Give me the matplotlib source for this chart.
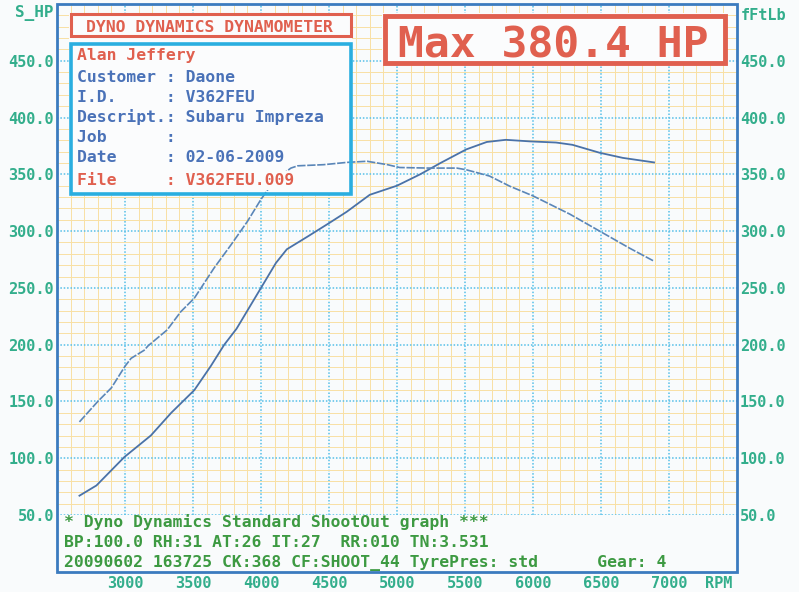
import matplotlib.pyplot as plt
from matplotlib.ticker import MultipleLocator
from matplotlib.patches import Rectangle

# power curve (S_HP)
rpm_hp = [2665, 2790, 2995, 3190, 3340, 3510, 3630, 3730, 3820, 4000, 4110, 4190,
          4340, 4500, 4630, 4800, 5000, 5170, 5320, 5510, 5660, 5800, 5980, 6170,
          6290, 6490, 6660, 6890]
hp = [67, 76, 101, 120, 140, 160, 181, 200, 214, 250, 272, 284,
      295, 307, 317, 332, 340, 350, 360, 372, 378.5, 380.4, 379, 378,
      376, 369, 364.5, 360.5]

# torque curve (fFtLb)
rpm_tq = [2665, 2800, 2900, 3000, 3045, 3140, 3170, 3310, 3410, 3510, 3655, 3780,
          3900, 4000, 4100, 4220, 4270, 4460, 4630, 4780, 4930, 5020, 5240, 5440,
          5510, 5680, 5830, 6000, 6270, 6490, 6710, 6890]
tq = [132, 150, 162, 181, 188, 195, 199, 213, 229, 241, 267.5, 288,
      308.5, 328, 345, 355.5, 357.5, 358.5, 360.5, 361.5, 358.5, 356, 355.5, 355.5,
      354, 348.5, 339.5, 331, 315, 300, 285, 273.5]

x_ticks = [3000, 3500, 4000, 4500, 5000, 5500, 6000, 6500, 7000]
y_ticks = [50, 100, 150, 200, 250, 300, 350, 400, 450]

info_rows = [
    ("Alan Jeffery", 'red'),
    ("Customer : Daone", 'blue'),
    ("I.D.     : V362FEU", 'blue'),
    ("Descript.: Subaru Impreza", 'blue'),
    ("Job      :", 'blue'),
    ("Date     : 02-06-2009", 'blue'),
    ("File     : V362FEU.009", 'red'),
]
footer_rows = [
    "* Dyno Dynamics Standard ShootOut graph ***",
    "BP:100.0 RH:31 AT:26 IT:27  RR:010 TN:3.531",
    "20090602 163725 CK:368 CF:SHOOT_44 TyrePres: std      Gear: 4",
]

W, H = 799, 592
def fx(x):
    return x / W
def fy(y):
    return 1 - y / H

RED = '#e0604f'
BLUE_TXT = '#4a72b8'
TEAL = '#33ae8c'
GREEN = '#3d9a42'
FRAME = '#3b7bbf'
CYAN = '#2aaee0'
PAPER = '#f9fbfc'
MONO = 'DejaVu Sans Mono'

fig = plt.figure(figsize=(7.99, 5.92), dpi=100, facecolor=PAPER)
ax = fig.add_axes([fx(57), fy(515), fx(737) - fx(57), fy(4) - fy(515)])
ax.set_facecolor(PAPER)
ax.set_xlim(2500, 7500)
ax.set_ylim(50, 500)

ax.xaxis.set_minor_locator(MultipleLocator(100))
ax.yaxis.set_minor_locator(MultipleLocator(10))
ax.set_xticks(x_ticks)
ax.set_xticklabels([str(v) for v in x_ticks])
ax.set_yticks(y_ticks)
ax.set_yticklabels(['%.1f' % v for v in y_ticks])
ax.set_axisbelow(True)
ax.grid(which='minor', color='#f8e0a4', lw=0.7, ls='-')
ax.grid(which='major', color='#55bfe8', lw=1.1, ls=(0, (1, 1.2)))
for s in ax.spines.values():
    s.set_visible(False)
ax.tick_params(which='both', length=0)
ax.tick_params(axis='y', left=True, right=True, labelleft=True, labelright=True,
               pad=2, labelsize=11, labelcolor=TEAL)
ax.tick_params(axis='x', pad=44, labelsize=11, labelcolor=TEAL)
for lab in ax.get_xticklabels() + ax.get_yticklabels():
    lab.set_fontfamily(MONO)
    lab.set_fontweight('bold')

# curves
ax.plot(rpm_hp, hp, color='#4a72a8', lw=1.3, zorder=2)
ax.plot(rpm_tq, tq, color='#5a86b8', lw=1.2, ls=(0, (5, 1)), zorder=2)

def box(x0, y0, x1, y1, **kw):
    r = Rectangle((fx(x0), fy(y1)), fx(x1) - fx(x0), fy(y0) - fy(y1),
                  transform=fig.transFigure, **kw)
    ax.add_patch(r)
    r.set_clip_on(False)
    return r

# filled panels behind the curves, borders above
box(69, 13, 352, 195, facecolor='#fbfcfd', edgecolor='none', zorder=1.5)
box(382, 13, 727, 65, facecolor='#fbfcfd', edgecolor='none', zorder=1.5)
box(70.5, 14.5, 350.5, 35.5, facecolor='none', edgecolor=RED, lw=2.2, zorder=3)
box(70.5, 43.5, 350.5, 193.5, facecolor='none', edgecolor=CYAN, lw=2.6, zorder=3)
box(384.5, 15.5, 724.5, 62.5, facecolor='none', edgecolor=RED, lw=3.5, zorder=3)

ax.text(fx(209), fy(32.5), "DYNO DYNAMICS DYNAMOMETER", transform=fig.transFigure,
        ha='center', va='baseline', family=MONO, fontsize=11.8, fontweight='bold',
        color=RED, zorder=4)
ax.text(fx(553), fy(58), "Max 380.4 HP", transform=fig.transFigure,
        ha='center', va='baseline', family=MONO, fontsize=31, fontweight='bold',
        color=RED, zorder=4)

baselines = [60, 82.5, 102, 122, 142, 162, 185]
for (txt, c), yb in zip(info_rows, baselines):
    ax.text(fx(77), fy(yb), txt, transform=fig.transFigure, ha='left', va='baseline',
            family=MONO, fontsize=11.8, fontweight='bold',
            color=RED if c == 'red' else BLUE_TXT,
            zorder=4, bbox=dict(boxstyle='square,pad=0.15', fc='#fbfcfd', ec='none'))

for txt, yb in zip(footer_rows, [527, 547, 567]):
    fig.text(fx(64), fy(yb), txt, ha='left', va='baseline', family=MONO,
             fontsize=11.8, fontweight='bold', color=GREEN)

fig.text(fx(53), fy(17), "S_HP", ha='right', va='baseline', family=MONO,
         fontsize=11.5, fontweight='bold', color=TEAL)
fig.text(fx(741), fy(20), "fFtLb", ha='left', va='baseline', family=MONO,
         fontsize=11, fontweight='bold', color=TEAL)
fig.text(fx(705), fy(588), "RPM", ha='left', va='baseline', family=MONO,
         fontsize=11, fontweight='bold', color=TEAL)

# outer blue frame
fig.patches.append(Rectangle((fx(57), fy(572)), fx(737) - fx(57), fy(4) - fy(572),
                             transform=fig.transFigure, fill=False,
                             edgecolor=FRAME, lw=2, zorder=5))

fig.savefig('out.png', dpi=100, facecolor=PAPER)
plt.close(fig)
